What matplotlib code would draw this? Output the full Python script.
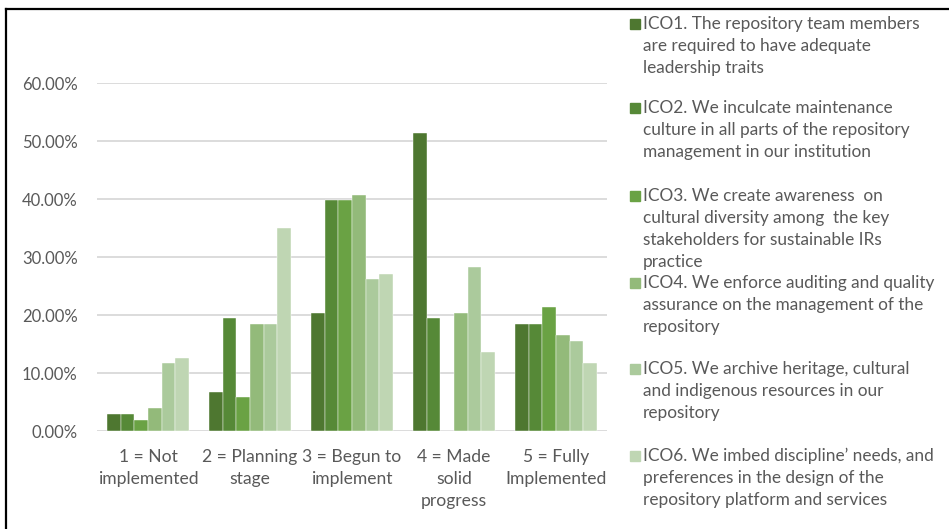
import numpy as np
import matplotlib.pyplot as plt
from matplotlib.lines import Line2D
from matplotlib.patches import Rectangle

plt.rcParams['font.family'] = ['Lato', 'DejaVu Sans']

categories = ["1 = Not\nimplemented", "2 = Planning\nstage", "3 = Begun to\nimplement",
              "4 = Made\nsolid\nprogress", "5 = Fully\nImplemented"]

labels = [
    "ICO1. The repository team members\nare required to have adequate\nleadership traits",
    "ICO2. We inculcate maintenance\nculture in all parts of the repository\nmanagement in our institution",
    "ICO3. We create awareness  on\ncultural diversity among  the key\nstakeholders for sustainable IRs\npractice",
    "ICO4. We enforce auditing and quality\nassurance on the management of the\nrepository",
    "ICO5. We archive heritage, cultural\nand indigenous resources in our\nrepository",
    "ICO6. We imbed discipline\u2019 needs, and\npreferences in the design of the\nrepository platform and services",
]

ico1 = [2.9, 6.8, 20.4, 51.4, 18.4]
ico2 = [2.9, 19.4, 39.8, 19.4, 18.4]
ico3 = [1.9, 5.8, 39.8, 0.0, 21.4]
ico4 = [3.9, 18.4, 40.7, 20.4, 16.5]
ico5 = [11.7, 18.4, 26.2, 28.2, 15.5]
ico6 = [12.6, 35.0, 27.1, 13.6, 11.7]
series = [ico1, ico2, ico3, ico4, ico5, ico6]

colors = ["#4E7730", "#568937", "#6AA244", "#93BA7A", "#ABCA9C", "#BFD6B3"]
text_col = "#595959"

W, H = 949, 529
fig = plt.figure(figsize=(W / 100, H / 100), dpi=100)
ax = fig.add_axes([97 / W, 1 - 431 / H, 510 / W, 348 / H])

x = np.arange(len(categories))
bw = 0.8 / 6
for i, vals in enumerate(series):
    ax.bar(x - 0.4 + bw * (i + 0.5), np.array(vals) / 100, width=bw,
           color=colors[i], edgecolor="white", linewidth=0.3, zorder=3)

ax.set_xlim(-0.5, 4.5)
ax.set_ylim(0, 0.6)
ax.set_yticks(np.arange(0, 0.61, 0.1))
ax.set_yticklabels([f"{v * 100:.2f}%" for v in np.arange(0, 0.61, 0.1)])
ax.set_xticks(x)
ax.set_xticklabels(categories, linespacing=1.45)
ax.tick_params(axis="y", length=0, pad=14, labelsize=12, labelcolor=text_col)
ax.tick_params(axis="x", length=0, pad=13, labelsize=12.6, labelcolor=text_col)
ax.grid(axis="y", color="#D9D9D9", linewidth=1.3, zorder=0)
ax.set_axisbelow(True)
for s in ax.spines.values():
    s.set_visible(False)

# legend drawn by hand, one block per series
tops = [24, 108, 196, 283, 369, 456]
for lab, c, yc in zip(labels, colors, tops):
    fig.patches.append(Rectangle((630 / W, 1 - (yc + 5) / H), 10 / W, 10 / H,
                                 transform=fig.transFigure, color=c))
    fig.text(643 / W, 1 - (yc - 8) / H, lab, ha="left", va="top",
             fontsize=12.4, color=text_col, linespacing=1.46)

# frame around the chart
fig.add_artist(Line2D([5.5 / W, 5.5 / W], [0, 1 - 8.5 / H], color="black", linewidth=1.6,
                      transform=fig.transFigure))
fig.add_artist(Line2D([5.5 / W, 1], [1 - 8.5 / H, 1 - 8.5 / H], color="black", linewidth=1.6,
                      transform=fig.transFigure))

fig.savefig("out.png", dpi=100)
